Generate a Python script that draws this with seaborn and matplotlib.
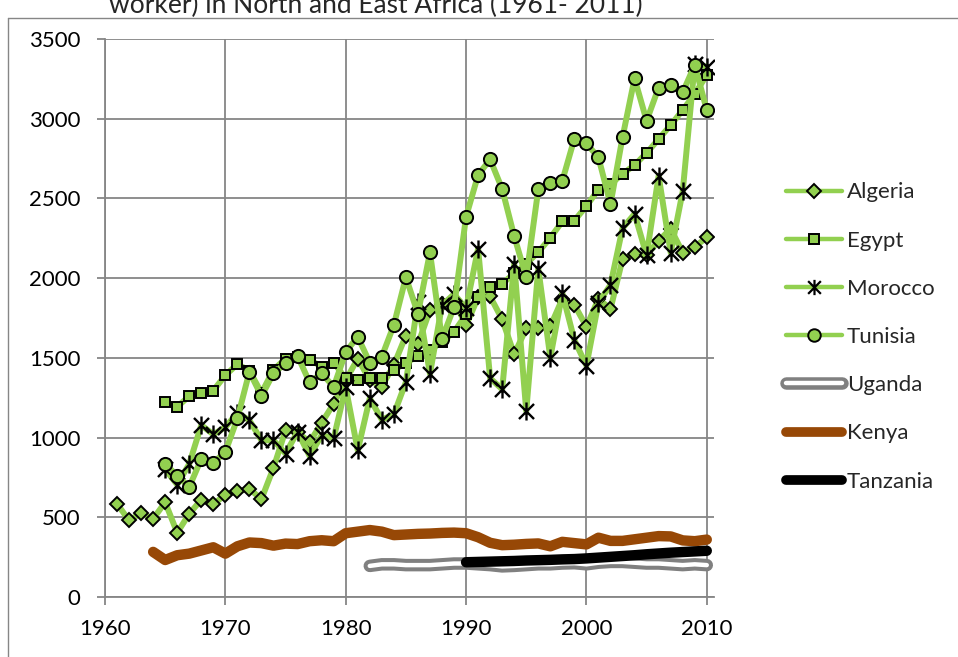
import matplotlib
matplotlib.use("Agg")
import matplotlib.pyplot as plt
import seaborn as sns
from matplotlib.path import Path
from matplotlib.lines import Line2D
from matplotlib.legend_handler import HandlerTuple

# values
algeria_years = list(range(1961, 2011))
algeria = [585, 480, 527, 490, 594, 403, 522, 610, 581, 642,
           662, 678, 614, 810, 1045, 1035, 970, 1093, 1212, 1360,
           1495, 1360, 1320, 1455, 1640, 1585, 1800, 1835, 1860, 1703,
           1880, 1885, 1741, 1522, 1685, 1690, 1697, 1870, 1833, 1695,
           1871, 1806, 2119, 2152, 2146, 2234, 2310, 2160, 2196, 2256]

north_years = list(range(1965, 2011))
egypt = [1225, 1193, 1260, 1278, 1295, 1391, 1460, 1420, 1280, 1425,
         1495, 1505, 1488, 1445, 1470, 1371, 1362, 1372, 1371, 1423,
         1469, 1510, 1548, 1600, 1663, 1772, 1884, 1944, 1964, 2030,
         2090, 2163, 2253, 2356, 2361, 2452, 2556, 2588, 2654, 2709,
         2785, 2872, 2960, 3054, 3155, 3274]
morocco = [800, 705, 835, 1078, 1020, 1065, 1155, 1108, 983, 983,
           900, 1036, 885, 1015, 995, 1316, 920, 1246, 1112, 1146,
           1348, 1850, 1400, 1830, 1900, 1810, 2185, 1372, 1303, 2090,
           1166, 2060, 1502, 1905, 1611, 1452, 1845, 1958, 2313, 2403,
           2143, 2642, 2160, 2544, 3345, 3326]
tunisia = [835, 760, 690, 866, 842, 910, 1120, 1413, 1260, 1403,
           1465, 1512, 1346, 1403, 1318, 1536, 1633, 1469, 1508, 1706,
           2006, 1777, 2161, 1618, 1819, 2385, 2647, 2745, 2559, 2263,
           2006, 2557, 2598, 2611, 2875, 2845, 2757, 2464, 2883, 3253,
           2987, 3195, 3210, 3165, 3337, 3054]

uganda_years = list(range(1982, 2011))
uganda = [195, 205, 205, 200, 200, 200, 205, 210, 210, 205,
          200, 192, 195, 200, 205, 205, 210, 212, 205, 215,
          220, 220, 215, 210, 210, 205, 200, 205, 200]

kenya_years = list(range(1964, 2011))
kenya = [283, 232, 262, 272, 292, 312, 272, 318, 342, 338,
         322, 335, 332, 350, 356, 350, 400, 410, 420, 410,
         388, 392, 396, 398, 402, 404, 400, 375, 340, 325,
         328, 333, 336, 318, 346, 338, 330, 372, 352, 352,
         362, 372, 382, 380, 355, 350, 360]

tanzania_years = list(range(1990, 2011))
tanzania = [218, 220, 222, 224, 226, 229, 231, 233, 236, 238,
            242, 247, 252, 257, 262, 268, 273, 278, 282, 286, 290]

x_ticks = [1960, 1970, 1980, 1990, 2000, 2010]
y_ticks = [0, 500, 1000, 1500, 2000, 2500, 3000, 3500]
labels = ["Algeria", "Egypt", "Morocco", "Tunisia", "Uganda", "Kenya", "Tanzania"]
title = "worker) in North and East Africa (1961- 2011)"

green = "#92D050"
brown = "#974806"
grey = "#868686"

sns.set_theme(style="white")
plt.rcParams["font.family"] = ["Lato", "DejaVu Sans"]

fig = plt.figure(figsize=(9.58, 6.57), dpi=100)
ax = fig.add_axes([105 / 958, 1 - 597 / 657, (714 - 105) / 958, (597 - 39) / 657])

# excel style star: an x with a vertical bar through it
star = Path([(-1, -1), (1, 1), (-1, 1), (1, -1), (0, -1.2), (0, 1.2)],
            [Path.MOVETO, Path.LINETO] * 3)

marker_kw = dict(markeredgecolor="black", markeredgewidth=1.4)
sns.lineplot(x=algeria_years, y=algeria, ax=ax, color=green, lw=4.3, marker="D",
             markersize=7.5, markerfacecolor=green, zorder=3, **marker_kw)
sns.lineplot(x=north_years, y=egypt, ax=ax, color=green, lw=4.3, marker="s",
             markersize=7.5, markerfacecolor=green, zorder=4, **marker_kw)
sns.lineplot(x=north_years, y=morocco, ax=ax, color=green, lw=4.3, marker=star,
             markersize=13, markerfacecolor="none", markeredgecolor="black",
             markeredgewidth=1.7, zorder=5)
sns.lineplot(x=north_years, y=tunisia, ax=ax, color=green, lw=4.3, marker="o",
             markersize=9.5, markerfacecolor=green, zorder=6, **marker_kw)

# hollow grey line for Uganda
sns.lineplot(x=uganda_years, y=uganda, ax=ax, color="#808080", lw=9,
             solid_capstyle="round", zorder=7)
sns.lineplot(x=uganda_years, y=uganda, ax=ax, color="white", lw=3.2,
             solid_capstyle="round", zorder=7.1)
sns.lineplot(x=kenya_years, y=kenya, ax=ax, color=brown, lw=7.5,
             solid_capstyle="round", zorder=8)
sns.lineplot(x=tanzania_years, y=tanzania, ax=ax, color="black", lw=7.5,
             solid_capstyle="round", zorder=9)

ax.set_xlim(1960, 2010.6)
ax.set_ylim(0, 3500)
ax.set_xticks(x_ticks)
ax.set_yticks(y_ticks)
ax.grid(True, color=grey, lw=1.3)
ax.set_axisbelow(True)
for side in ["top", "right"]:
    ax.spines[side].set_visible(False)
for side in ["left", "bottom"]:
    ax.spines[side].set_color(grey)
    ax.spines[side].set_linewidth(1.3)
ax.tick_params(direction="out", length=5.8, width=1.3, color=grey,
               labelsize=16, labelcolor="black")
ax.tick_params(axis="y", pad=12, left=True)
ax.tick_params(axis="x", pad=10, bottom=True)
ax.set_xlabel("")
ax.set_ylabel("")


def green_handle(marker, face, size, mew=1.4):
    return Line2D([], [], color=green, lw=3.2, marker=marker, markersize=size,
                  markerfacecolor=face, markeredgecolor="black",
                  markeredgewidth=mew, solid_capstyle="round")


handles = [
    green_handle("D", green, 7),
    green_handle("s", green, 7),
    green_handle(star, "none", 11, 1.6),
    green_handle("o", green, 9),
    (Line2D([], [], color="#808080", lw=9, solid_capstyle="round"),
     Line2D([], [], color="white", lw=3.2, solid_capstyle="round")),
    Line2D([], [], color=brown, lw=7, solid_capstyle="round"),
    Line2D([], [], color="black", lw=7, solid_capstyle="round"),
]
ax.legend(handles, labels, handler_map={tuple: HandlerTuple(ndivide=1)},
          loc="center left", bbox_to_anchor=(786 / 958, 1 - 337 / 657),
          bbox_transform=fig.transFigure, frameon=False, fontsize=16,
          handlelength=2.5, handletextpad=0.25, labelspacing=1.27,
          borderpad=0, borderaxespad=0)

# title cut off at the top edge, as in the reference
fig.text(376 / 958, 1 - 13 / 657, title, ha="center", va="baseline", fontsize=19)

# outer chart border (only top and left edges fall inside the picture)
fig.add_artist(Line2D([8 / 958, 1], [1 - 18 / 657] * 2, transform=fig.transFigure,
                      color=grey, lw=1))
fig.add_artist(Line2D([8 / 958] * 2, [0, 1 - 18 / 657], transform=fig.transFigure,
                      color=grey, lw=1))

fig.savefig("out.png", dpi=100, facecolor="white")
